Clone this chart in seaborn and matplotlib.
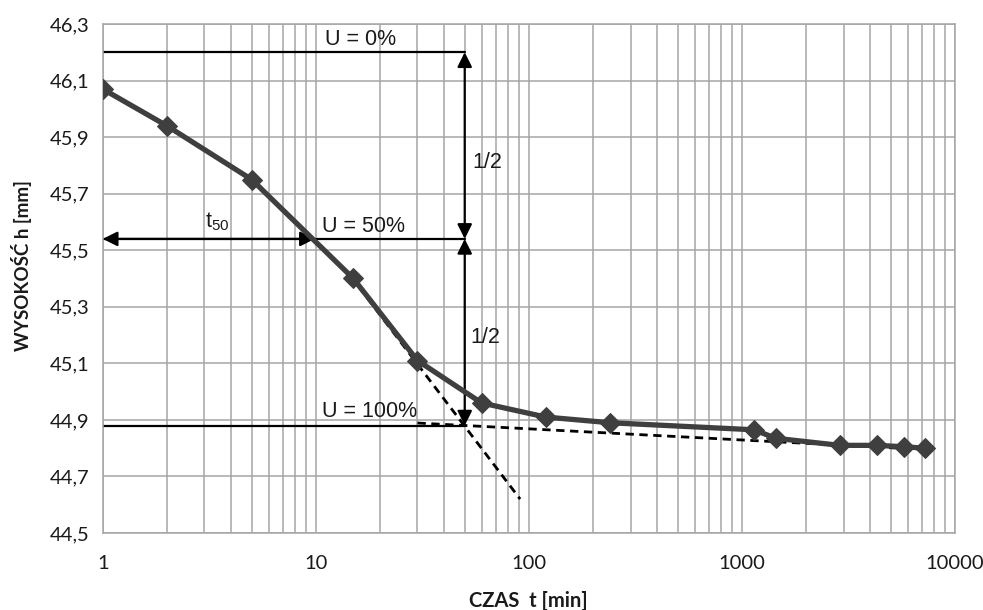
import numpy as np
import pandas as pd
import matplotlib
matplotlib.use("Agg")
import matplotlib.pyplot as plt
import seaborn as sns
from matplotlib.ticker import FixedLocator, FuncFormatter, LogLocator, NullFormatter

sns.set_style("whitegrid")
plt.rcParams['font.family'] = ['Liberation Sans', 'DejaVu Sans']

#%%
# Dane z pomiaru konsolidacji
czas_min = [1, 2, 5, 15, 30, 60, 120, 240, 1140, 1440, 2880, 4320, 5760, 7200]
wysokosc_mm = [46.07, 45.94, 45.75, 45.40, 45.11, 44.96, 44.91, 44.89,
               44.865, 44.835, 44.81, 44.81, 44.805, 44.80]

# Konstrukcja Casagrande
h_u0 = 46.20
h_u50 = 45.54
h_u100 = 44.88
t_konstr = 50
t_50 = 9.9
styczna1_t = [14.5, 91]
styczna1_h = [45.41, 44.62]
styczna2_t = [30, 7300]
styczna2_h = [44.889, 44.795]

y_ticks = [44.5, 44.7, 44.9, 45.1, 45.3, 45.5, 45.7, 45.9, 46.1, 46.3]
x_ticks = [1, 10, 100, 1000, 10000]

df = pd.DataFrame({"czas": czas_min, "h": wysokosc_mm})

#%%
fig = plt.figure(figsize=(9.83, 6.10), dpi=100)
ax = fig.add_axes([0.1045, 0.1262, 0.867, 0.8345])

grid_c = "#a6a6a6"
ax.set_xscale("log")
ax.set_xlim(1, 10000)
ax.set_ylim(44.5, 46.3)
ax.xaxis.set_major_locator(FixedLocator(x_ticks))
ax.xaxis.set_minor_locator(LogLocator(base=10, subs=np.arange(2, 10)))
ax.xaxis.set_minor_formatter(NullFormatter())
ax.xaxis.set_major_formatter(FuncFormatter(lambda v, _: f"{v:g}"))
ax.yaxis.set_major_locator(FixedLocator(y_ticks))
ax.yaxis.set_major_formatter(FuncFormatter(lambda v, _: f"{v:.1f}".replace(".", ",")))
ax.grid(True, which="both", axis="x", color=grid_c, lw=1.1)
ax.grid(True, which="major", axis="y", color=grid_c, lw=1.1)
for s in ax.spines.values():
    s.set_color(grid_c)
    s.set_linewidth(1.1)
ax.tick_params(axis="both", which="major", length=6, width=1.1, color=grid_c,
               labelsize=14.5, labelcolor="#1a1a1a")
ax.tick_params(axis="x", which="minor", length=0)
ax.tick_params(axis="x", pad=10)
for lab in ax.get_xticklabels() + ax.get_yticklabels():
    lab.set_family(["Lato", "DejaVu Sans"])

# Linie konstrukcyjne
ax.plot([1, t_konstr], [h_u0, h_u0], color="black", lw=1.6)
ax.plot([1, t_konstr], [h_u50, h_u50], color="black", lw=1.6)
ax.plot([1, t_konstr], [h_u100, h_u100], color="black", lw=1.6)

arr = dict(arrowstyle="<|-|>", color="black", lw=1.6, mutation_scale=22,
           shrinkA=0, shrinkB=0)
ax.annotate("", xy=(t_konstr, h_u0), xytext=(t_konstr, h_u50), arrowprops=arr)
ax.annotate("", xy=(t_konstr, h_u50), xytext=(t_konstr, h_u100), arrowprops=arr)
ax.annotate("", xy=(1, h_u50), xytext=(t_50, h_u50), arrowprops=arr)

# Styczne (przerywane)
ax.plot(styczna1_t, styczna1_h, color="black", lw=2, ls=(0, (3, 2)))
ax.plot(styczna2_t, styczna2_h, color="black", lw=2, ls=(0, (3, 2)))

# Krzywa konsolidacji
sns.lineplot(data=df, x="czas", y="h", ax=ax, color="#3f3f3f", lw=3.8,
             marker="D", markersize=10, markeredgecolor="#3f3f3f", zorder=5)

# Opisy
txt = dict(fontsize=15.5, color="#1a1a1a", va="center", ha="left")
ax.text(11, 46.245, "U = 0%", **txt)
ax.text(10.7, 45.585, "U = 50%", **txt)
ax.text(10.7, 44.93, "U = 100%", **txt)
ax.text(54.5, 45.81, "1/2", **txt)
ax.text(53, 45.19, "1/2", **txt)
ax.text(3.45, 45.60, r"t$_{\mathregular{50}}$", fontsize=15.5, color="#1a1a1a",
        va="center", ha="center")

ax.set_xlabel("CZAS  t [min]", fontsize=14.5, fontweight="bold",
              family=["Lato", "DejaVu Sans"], color="#1a1a1a")
ax.set_ylabel("WYSOKOŚĆ h [mm]", fontsize=13.5, fontweight="bold",
              family=["Lato", "DejaVu Sans"], color="#1a1a1a")
ax.xaxis.set_label_coords(0.499, -0.113)
ax.yaxis.set_label_coords(-0.083, 0.525)

fig.savefig("out.png", dpi=100)
